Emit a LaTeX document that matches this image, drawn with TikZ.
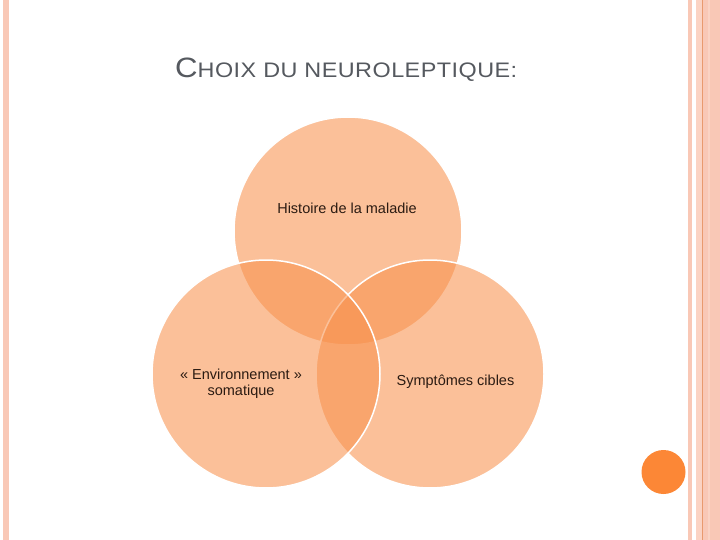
\documentclass[tikz,border=0pt]{standalone}
\usepackage{fontspec}
\usepackage{graphicx}
\setmainfont{Liberation Sans}
\newfontfamily\titlefont[LetterSpace=2]{Liberation Sans}
\definecolor{band}{HTML}{F9C8B6}
\definecolor{bandlight}{HTML}{FBD3C3}
\definecolor{bandline}{HTML}{E99A6E}
\definecolor{acc}{HTML}{F8914C}
\definecolor{dot}{HTML}{FC8736}
\definecolor{titlegray}{HTML}{55595F}
\definecolor{txt}{HTML}{2B1B12}
\tikzset{
  venn/.style={fill=acc, fill opacity=0.57},
  vennline/.style={draw=white, line width=1.5pt},
  lbl/.style={text=txt, font=\fontsize{14.5}{16}\selectfont, align=center, inner sep=0pt}
}
\begin{document}
\begin{tikzpicture}[x=1pt,y=-1pt]
\useasboundingbox (0,0) rectangle (720,540);
\fill[white] (0,0) rectangle (720,540);
% borders
\fill[band] (3,0) rectangle (9,540);
\fill[band] (688,0) rectangle (692,540);
\fill[bandlight] (696,0) rectangle (702,540);
\fill[band] (703,0) rectangle (720,540);
\fill[bandline] (702,0) rectangle (703.4,540);
\fill[bandlight] (708,0) rectangle (710,540);
\fill[dot] (663.5,472) circle (22);
% title
\node[anchor=base west, text=titlegray, inner sep=0pt] (title) at (175,78)
  {\resizebox{342pt}{\height}{\titlefont\fontsize{28}{32}\selectfont C\fontsize{21}{24}\selectfont HOIX DU NEUROLEPTIQUE:}};
% venn
\coordinate (ct) at (348,231);
\coordinate (cr) at (430,374);
\coordinate (cl) at (266,374);
\fill[venn] (ct) circle (114);
\draw[vennline] (ct) circle (114);
\fill[venn] (cr) circle (114);
\draw[vennline] (cr) circle (114);
\fill[venn] (cl) circle (114);
\draw[vennline] (cl) circle (114);
\node[lbl] (t1) at (347,208) {Histoire de la maladie};
\node[lbl] (t2) at (241,384) {« Environnement »\\somatique};
\node[lbl] (t3) at (455.5,382) {Symptômes cibles};
\end{tikzpicture}
\end{document}
